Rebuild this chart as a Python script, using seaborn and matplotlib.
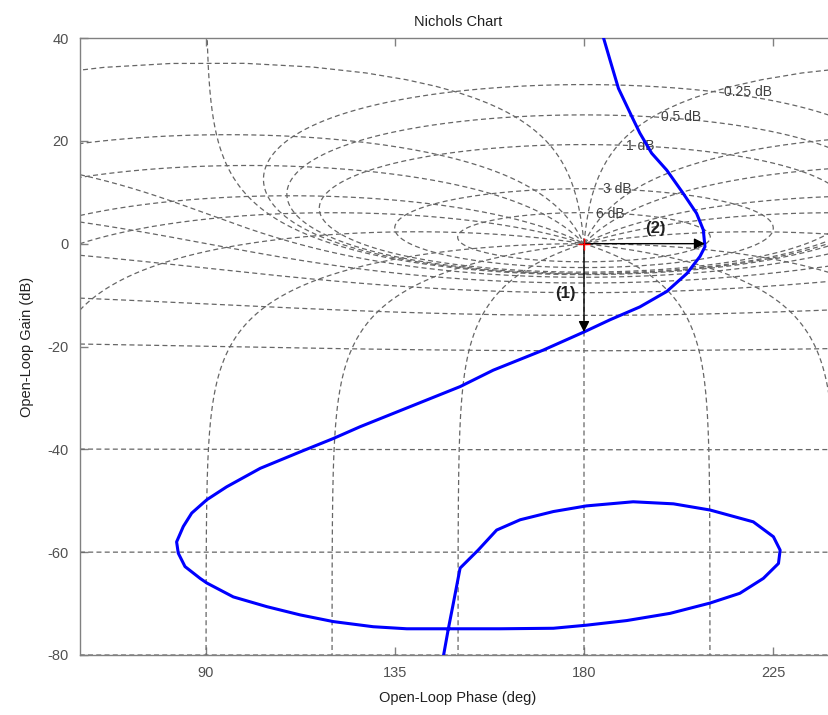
import numpy as np
import pandas as pd
import matplotlib
matplotlib.use("Agg")
import matplotlib.pyplot as plt
import seaborn as sns

# ---- open-loop response ----
phase_deg = [184.3, 186.2, 188.2, 191.4, 193.3, 196.1, 199.7, 203.6, 206.8, 208.4,
             208.8, 207.6, 204.5, 199.7, 193.3, 186.2, 180.2, 170.3, 158.4, 150.5,
             138.6, 126.7, 120.3, 112.4, 102.9, 94.9, 90.2, 86.6, 84.6, 83.0,
             83.4, 85.0, 88.6, 90.2, 96.5, 104.5, 112.4, 120.3, 129.8, 137.8,
             160.0, 172.7, 180.6, 190.2, 200.5, 210.0, 217.1, 222.7, 226.3, 226.7,
             225.1, 220.3, 210.0, 201.3, 191.7, 180.6, 172.7, 164.8, 159.2, 154.8,
             150.5, 148.9, 147.7, 146.4]
gain_db = [41.0, 35.7, 30.2, 24.7, 21.5, 17.6, 14.3, 9.8, 5.9, 2.7,
           -0.6, -2.5, -5.8, -9.3, -12.3, -14.8, -17.1, -20.7, -24.6, -27.8,
           -31.7, -35.6, -37.9, -40.5, -43.7, -47.3, -49.8, -52.4, -55.0, -58.0,
           -60.2, -62.8, -65.1, -66.0, -68.7, -70.6, -72.2, -73.5, -74.5, -74.9,
           -74.9, -74.8, -74.2, -73.3, -71.9, -69.9, -68.0, -65.1, -62.2, -59.6,
           -57.0, -54.1, -51.8, -50.6, -50.2, -51.0, -52.1, -53.7, -55.7, -59.6,
           -63.1, -69.9, -74.9, -80.8]

# ---- Nichols grid definition ----
closed_gains = [6, 3, 1, 0.5, 0.25, 0, -1, -3, -6, -12, -20, -40, -60, -80]
closed_phases = [1, 5, 10, 20, 30, 50, 90, 120, 150, 180,
                 210, 240, 270, 310, 330, 340, 350, 355, 359]
label_text = ["6 dB", "3 dB", "1 dB", "0.5 dB", "0.25 dB"]
label_phase = [186.2, 187.9, 193.3, 203.1, 219.0]
label_gain = [5.8, 10.7, 18.9, 24.6, 29.5]

# margins annotations
crit_phase, crit_gain = [180.0], [0.0]
gm_end = [180.0, -17.2]
pm_end = [208.8, 0.0]
margin_labels = ["(1)", "(2)"]
margin_label_pos = [(175.6, -9.6), (196.9, 2.9)]

xticks = [90, 135, 180, 225]
yticks = [-80, -60, -40, -20, 0, 20, 40]

sns.set_style("ticks")
plt.rcParams["font.family"] = ["Liberation Sans", "DejaVu Sans"]
plt.rcParams["axes.unicode_minus"] = False

fig = plt.figure(figsize=(8.29, 7.15), dpi=100)
ax = fig.add_axes([80 / 829, 60 / 715, 756 / 829, 617 / 715])


def m_contour(gdb):
    m = 10 ** (gdb / 20.0)
    if abs(m - 1) < 1e-9:
        phi = np.linspace(90.05, 269.95, 3000)
        g = -1.0 / (2 * np.cos(np.radians(phi)))
        return phi, 20 * np.log10(g)
    th = np.linspace(-np.pi, np.pi, 6001)
    T = m * np.exp(1j * th)
    G = T / (1 - T)
    ph = np.degrees(np.angle(G)) % 360
    gd = 20 * np.log10(np.abs(G))
    if m < 1:
        o = np.argsort(ph)
        ph, gd = ph[o], gd[o]
    return ph, gd


def n_contour(th_deg):
    m = np.logspace(-7, 7, 6000)
    T = m * np.exp(1j * np.radians(th_deg))
    G = T / (1 - T)
    ph = np.degrees(np.angle(G)) % 360
    gd = 20 * np.log10(np.abs(G))
    return ph, gd


grid_kw = dict(color="#666666", lw=0.9, ls=(0, (4, 2.6)), zorder=1)
for gdb in closed_gains:
    ph, gd = m_contour(gdb)
    ax.plot(ph, gd, **grid_kw)
for th in closed_phases:
    ph, gd = n_contour(th)
    ax.plot(ph, gd, **grid_kw)

for t, p, g in zip(label_text, label_phase, label_gain):
    ax.text(p, g, t, ha="center", va="center", fontsize=10, color="#404040", zorder=2)

df = pd.DataFrame({"phase": phase_deg, "gain": gain_db})
sns.lineplot(data=df, x="phase", y="gain", sort=False, estimator=None,
             color="#0000ff", lw=2.2, ax=ax, zorder=3)

arrow_kw = dict(arrowstyle="-|>", color="black", lw=1.0, mutation_scale=16,
                shrinkA=0, shrinkB=0)
ax.annotate("", xy=tuple(gm_end), xytext=(crit_phase[0], crit_gain[0]),
            arrowprops=arrow_kw, zorder=4)
ax.annotate("", xy=tuple(pm_end), xytext=(crit_phase[0], crit_gain[0]),
            arrowprops=arrow_kw, zorder=4)
ax.plot(crit_phase, crit_gain, marker="+", color="red", ms=9, mew=1.0, ls="none", zorder=5)
for t, (p, g) in zip(margin_labels, margin_label_pos):
    ax.text(p, g, t, ha="center", va="center", fontsize=12, fontweight="bold",
            color="#202020", zorder=5)

ax.set_xlim(60, 240)
ax.set_ylim(-80, 40)
ax.set_xticks(xticks)
ax.set_yticks(yticks)
ax.tick_params(direction="in", length=6, width=1, color="#808080",
               labelcolor="#505050", labelsize=10.5, top=True, right=True, pad=8)
for s in ax.spines.values():
    s.set_color("#808080")
    s.set_linewidth(1.0)
ax.set_xlabel("Open-Loop Phase (deg)", fontsize=10.5, color="#202020", labelpad=8)
ax.set_ylabel("Open-Loop Gain (dB)", fontsize=10.5, color="#202020", labelpad=10)
ax.set_title("Nichols Chart", fontsize=10.5, color="#202020", pad=9)

fig.savefig("out.png", dpi=100)
